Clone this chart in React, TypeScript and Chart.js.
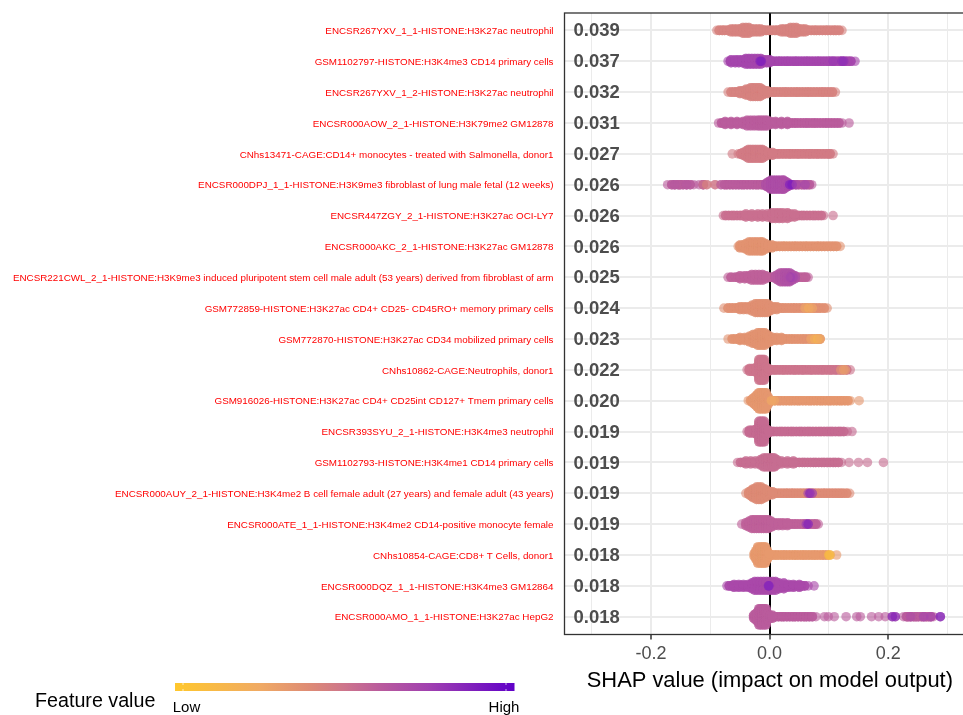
import React, { useEffect, useRef } from "react";
import { Chart, registerables } from "chart.js";

Chart.register(...registerables);

const featureNames = [
  "ENCSR267YXV_1_1-HISTONE:H3K27ac neutrophil",
  "GSM1102797-HISTONE:H3K4me3 CD14 primary cells",
  "ENCSR267YXV_1_2-HISTONE:H3K27ac neutrophil",
  "ENCSR000AOW_2_1-HISTONE:H3K79me2 GM12878",
  "CNhs13471-CAGE:CD14+ monocytes - treated with Salmonella, donor1",
  "ENCSR000DPJ_1_1-HISTONE:H3K9me3 fibroblast of lung male fetal (12 weeks)",
  "ENCSR447ZGY_2_1-HISTONE:H3K27ac OCI-LY7",
  "ENCSR000AKC_2_1-HISTONE:H3K27ac GM12878",
  "ENCSR221CWL_2_1-HISTONE:H3K9me3 induced pluripotent stem cell male adult (53 years) derived from fibroblast of arm",
  "GSM772859-HISTONE:H3K27ac CD4+ CD25- CD45RO+ memory primary cells",
  "GSM772870-HISTONE:H3K27ac CD34 mobilized primary cells",
  "CNhs10862-CAGE:Neutrophils, donor1",
  "GSM916026-HISTONE:H3K27ac CD4+ CD25int CD127+ Tmem primary cells",
  "ENCSR393SYU_2_1-HISTONE:H3K4me3 neutrophil",
  "GSM1102793-HISTONE:H3K4me1 CD14 primary cells",
  "ENCSR000AUY_2_1-HISTONE:H3K4me2 B cell female adult (27 years) and female adult (43 years)",
  "ENCSR000ATE_1_1-HISTONE:H3K4me2 CD14-positive monocyte female",
  "CNhs10854-CAGE:CD8+ T Cells, donor1",
  "ENCSR000DQZ_1_1-HISTONE:H3K4me3 GM12864",
  "ENCSR000AMO_1_1-HISTONE:H3K27ac HepG2",
];

const importance = [0.039, 0.037, 0.032, 0.031, 0.027, 0.026, 0.026, 0.026, 0.025, 0.024, 0.023, 0.022, 0.02, 0.019, 0.019, 0.019, 0.019, 0.018, 0.018, 0.018];

// Typical feature value (0 = low, 1 = high) of each row's points
const rowFeature = [0.44, 0.72, 0.44, 0.6, 0.47, 0.6, 0.52, 0.36, 0.58, 0.37, 0.36, 0.5, 0.34, 0.54, 0.53, 0.4, 0.58, 0.33, 0.7, 0.6];

const xTickValues = [-0.3, -0.2, -0.1, 0, 0.1, 0.2, 0.3];
const xLabelled = [-0.2, 0, 0.2];

// SHAP values along each row
const shap0 = [-0.089, -0.085, -0.08, -0.076, -0.071, -0.066, -0.062, -0.057, -0.052, -0.048, -0.043, -0.038, -0.034, -0.029, -0.024, -0.02, -0.015, -0.01, -0.006, -0.001, 0.004, 0.009, 0.013, 0.018, 0.023, 0.027, 0.032, 0.037, 0.042, 0.046, 0.051, 0.056, 0.06, 0.065, 0.07, 0.075, 0.079, 0.084, 0.089, 0.094, 0.098, 0.103, 0.108, 0.112, 0.117, 0.122];
const shap1 = [-0.07, -0.066, -0.061, -0.056, -0.052, -0.047, -0.043, -0.038, -0.033, -0.029, -0.024, -0.019, -0.015, -0.01, -0.005, -0.001, 0.004, 0.009, 0.014, 0.018, 0.023, 0.028, 0.032, 0.037, 0.042, 0.046, 0.051, 0.056, 0.061, 0.065, 0.07, 0.075, 0.08, 0.084, 0.089, 0.094, 0.099, 0.103, 0.108, 0.113, 0.118, 0.122, 0.127, 0.132, 0.137, 0.144];
const shap2 = [-0.07, -0.065, -0.06, -0.056, -0.051, -0.046, -0.041, -0.037, -0.032, -0.027, -0.023, -0.018, -0.013, -0.008, -0.004, 0.001, 0.006, 0.01, 0.015, 0.02, 0.025, 0.029, 0.034, 0.039, 0.044, 0.048, 0.053, 0.058, 0.063, 0.067, 0.072, 0.077, 0.082, 0.087, 0.091, 0.096, 0.101, 0.106, 0.111];
const shap3 = [-0.086, -0.081, -0.077, -0.072, -0.067, -0.063, -0.058, -0.053, -0.049, -0.044, -0.039, -0.034, -0.03, -0.025, -0.02, -0.016, -0.011, -0.006, -0.002, 0.003, 0.008, 0.012, 0.017, 0.022, 0.027, 0.031, 0.036, 0.041, 0.045, 0.05, 0.055, 0.06, 0.064, 0.069, 0.074, 0.078, 0.083, 0.088, 0.093, 0.097, 0.102, 0.107, 0.112, 0.117, 0.122, 0.134];
const shap4 = [-0.063, -0.053, -0.049, -0.044, -0.039, -0.035, -0.03, -0.025, -0.02, -0.016, -0.011, -0.006, -0.002, 0.003, 0.008, 0.013, 0.017, 0.022, 0.027, 0.032, 0.036, 0.041, 0.046, 0.05, 0.055, 0.06, 0.065, 0.069, 0.074, 0.079, 0.083, 0.088, 0.093, 0.098, 0.102, 0.107];
const shap5 = [-0.172, -0.165, -0.16, -0.154, -0.151, -0.146, -0.14, -0.134, -0.128, -0.119, -0.112, -0.106, -0.092, -0.082, -0.076, -0.072, -0.067, -0.062, -0.057, -0.052, -0.047, -0.043, -0.038, -0.033, -0.028, -0.023, -0.019, -0.014, -0.01, -0.005, 0, 0.005, 0.01, 0.015, 0.02, 0.025, 0.03, 0.034, 0.039, 0.044, 0.049, 0.054, 0.058, 0.063, 0.067, 0.071];
const shap6 = [-0.078, -0.074, -0.069, -0.064, -0.06, -0.055, -0.05, -0.046, -0.041, -0.036, -0.032, -0.027, -0.022, -0.017, -0.013, -0.008, -0.003, 0.002, 0.006, 0.011, 0.016, 0.021, 0.025, 0.03, 0.035, 0.04, 0.044, 0.049, 0.054, 0.058, 0.063, 0.068, 0.073, 0.077, 0.082, 0.087, 0.091, 0.107];
const shap7 = [-0.053, -0.049, -0.044, -0.039, -0.035, -0.03, -0.025, -0.021, -0.016, -0.011, -0.007, -0.002, 0.003, 0.008, 0.012, 0.017, 0.022, 0.026, 0.031, 0.036, 0.041, 0.045, 0.05, 0.055, 0.06, 0.064, 0.069, 0.074, 0.079, 0.083, 0.088, 0.093, 0.098, 0.103, 0.108, 0.113, 0.119];
const shap8 = [-0.07, -0.065, -0.058, -0.053, -0.047, -0.042, -0.037, -0.033, -0.028, -0.023, -0.019, -0.014, -0.009, -0.005, 0, 0.005, 0.01, 0.014, 0.019, 0.024, 0.029, 0.033, 0.037, 0.042, 0.047, 0.052, 0.057, 0.061, 0.065];
const shap9 = [-0.077, -0.07, -0.065, -0.06, -0.055, -0.051, -0.046, -0.041, -0.037, -0.032, -0.027, -0.023, -0.018, -0.013, -0.009, -0.004, 0.001, 0.006, 0.01, 0.015, 0.02, 0.024, 0.029, 0.034, 0.039, 0.043, 0.048, 0.053, 0.058, 0.062, 0.067, 0.072, 0.076, 0.081, 0.086, 0.092, 0.097];
const shap10 = [-0.07, -0.063, -0.058, -0.053, -0.049, -0.044, -0.039, -0.035, -0.03, -0.025, -0.021, -0.016, -0.011, -0.007, -0.002, 0.003, 0.007, 0.012, 0.017, 0.022, 0.026, 0.031, 0.036, 0.04, 0.045, 0.05, 0.055, 0.059, 0.064, 0.069, 0.073, 0.078, 0.082, 0.085];
const shap11 = [-0.038, -0.034, -0.03, -0.025, -0.021, -0.016, -0.012, -0.007, -0.003, 0.002, 0.007, 0.011, 0.016, 0.021, 0.025, 0.03, 0.035, 0.04, 0.044, 0.049, 0.054, 0.058, 0.063, 0.068, 0.072, 0.077, 0.082, 0.087, 0.091, 0.096, 0.101, 0.105, 0.11, 0.114, 0.119, 0.124, 0.13, 0.136];
const shap12 = [-0.036, -0.032, -0.028, -0.023, -0.019, -0.014, -0.01, -0.005, 0, 0.004, 0.009, 0.014, 0.018, 0.023, 0.028, 0.033, 0.037, 0.042, 0.047, 0.051, 0.056, 0.061, 0.066, 0.07, 0.075, 0.08, 0.085, 0.089, 0.094, 0.099, 0.103, 0.108, 0.113, 0.118, 0.122, 0.127, 0.132, 0.136, 0.151];
const shap13 = [-0.038, -0.034, -0.029, -0.025, -0.02, -0.016, -0.011, -0.007, -0.002, 0.003, 0.007, 0.012, 0.017, 0.021, 0.026, 0.031, 0.036, 0.04, 0.045, 0.05, 0.054, 0.059, 0.064, 0.068, 0.073, 0.078, 0.083, 0.087, 0.092, 0.097, 0.102, 0.106, 0.111, 0.116, 0.12, 0.125, 0.131, 0.139];
const shap14 = [-0.054, -0.049, -0.044, -0.04, -0.035, -0.03, -0.026, -0.021, -0.016, -0.012, -0.007, -0.002, 0.003, 0.007, 0.012, 0.017, 0.021, 0.026, 0.031, 0.036, 0.04, 0.045, 0.05, 0.055, 0.059, 0.064, 0.069, 0.074, 0.078, 0.083, 0.088, 0.092, 0.097, 0.102, 0.107, 0.111, 0.116, 0.121, 0.134, 0.15, 0.165, 0.192];
const shap15 = [-0.04, -0.035, -0.031, -0.026, -0.021, -0.016, -0.012, -0.007, -0.002, 0.003, 0.008, 0.012, 0.017, 0.022, 0.027, 0.031, 0.036, 0.04, 0.045, 0.05, 0.055, 0.06, 0.065, 0.07, 0.075, 0.08, 0.085, 0.09, 0.094, 0.099, 0.104, 0.109, 0.114, 0.119, 0.124, 0.13, 0.135];
const shap16 = [-0.047, -0.039, -0.034, -0.03, -0.025, -0.02, -0.016, -0.011, -0.006, -0.002, 0.003, 0.008, 0.012, 0.017, 0.022, 0.026, 0.031, 0.036, 0.041, 0.045, 0.05, 0.055, 0.059, 0.064, 0.069, 0.074, 0.078, 0.082];
const shap17 = [-0.025, -0.021, -0.016, -0.011, -0.007, -0.002, 0.003, 0.008, 0.012, 0.017, 0.022, 0.026, 0.031, 0.036, 0.041, 0.045, 0.05, 0.055, 0.059, 0.064, 0.069, 0.074, 0.078, 0.083, 0.088, 0.092, 0.097, 0.102, 0.113];
const shap18 = [-0.072, -0.068, -0.063, -0.058, -0.054, -0.049, -0.044, -0.04, -0.035, -0.03, -0.026, -0.021, -0.016, -0.012, -0.007, -0.002, 0.003, 0.007, 0.012, 0.017, 0.021, 0.026, 0.031, 0.036, 0.04, 0.045, 0.05, 0.054, 0.059, 0.065, 0.075];
const shap19 = [-0.027, -0.022, -0.018, -0.013, -0.009, -0.004, 0.001, 0.006, 0.01, 0.015, 0.02, 0.024, 0.029, 0.034, 0.039, 0.043, 0.048, 0.053, 0.058, 0.062, 0.067, 0.072, 0.078, 0.0925, 0.099, 0.109, 0.129, 0.147, 0.153, 0.172, 0.184, 0.195, 0.207, 0.212, 0.226, 0.231, 0.234, 0.238, 0.243, 0.247, 0.251, 0.256, 0.26, 0.264, 0.268, 0.272, 0.276, 0.288];

// Places where many observations pile up: [shap, count, optional feature value]
const stack0 = [[-0.065, 3], [-0.06, 3], [-0.055, 3], [-0.05, 3], [-0.045, 5], [-0.04, 5], [-0.035, 5], [-0.03, 3], [-0.025, 3], [-0.02, 3], [-0.015, 3], [0.02, 3], [0.025, 3], [0.03, 3], [0.035, 5], [0.04, 5], [0.045, 5], [0.05, 3], [0.055, 3], [0.06, 3]];
const stack1 = [[-0.065, 3], [-0.058, 3], [-0.052, 3], [-0.046, 3], [-0.04, 5], [-0.035, 5], [-0.03, 5], [-0.025, 5], [-0.02, 5], [-0.015, 5], [-0.01, 3], [-0.005, 3], [0, 3]];
const stack2 = [[-0.05, 3], [-0.045, 3], [-0.04, 5], [-0.036, 5], [-0.032, 7], [-0.028, 7], [-0.024, 7], [-0.02, 7], [-0.016, 7], [-0.012, 5], [-0.008, 3], [-0.004, 3]];
const stack3 = [[-0.075, 3], [-0.065, 3], [-0.055, 3], [-0.045, 3], [-0.038, 5], [-0.032, 5], [-0.026, 5], [-0.02, 5], [-0.016, 5], [-0.012, 5], [-0.008, 5], [-0.004, 5], [0.002, 3], [0.01, 3], [0.02, 3], [0.03, 3]];
const stack4 = [[-0.045, 3], [-0.04, 5], [-0.036, 7], [-0.032, 7], [-0.028, 7], [-0.024, 7], [-0.02, 7], [-0.016, 7], [-0.012, 7], [-0.008, 5], [-0.002, 3], [0.005, 3]];
const stack5 = [[-0.006, 3, 0.66], [-0.002, 5, 0.66], [0.002, 7, 0.68], [0.006, 7, 0.68], [0.01, 7, 0.68], [0.014, 7, 0.68], [0.018, 7, 0.68], [0.022, 7, 0.68], [0.024, 7, 0.68], [0.028, 5, 0.68], [0.032, 3, 0.7]];
const stack6 = [[-0.04, 3], [-0.03, 3], [-0.02, 3], [-0.012, 3], [-0.004, 3], [0.004, 5], [0.01, 5], [0.016, 5], [0.022, 5], [0.03, 5], [0.036, 3], [0.042, 3]];
const stack7 = [[-0.05, 3], [-0.045, 3], [-0.04, 5], [-0.035, 7], [-0.031, 7], [-0.027, 7], [-0.023, 7], [-0.019, 7], [-0.015, 7], [-0.012, 7], [-0.007, 5], [-0.002, 3], [0.004, 3]];
const stack8 = [[-0.05, 3], [-0.042, 3], [-0.036, 3], [-0.03, 5], [-0.024, 5], [-0.018, 5], [-0.012, 5], [-0.006, 3], [0.01, 3, 0.62], [0.014, 5, 0.62], [0.018, 7, 0.64], [0.022, 7, 0.64], [0.026, 7, 0.66], [0.03, 7, 0.66], [0.034, 7, 0.66], [0.038, 5, 0.68], [0.043, 3, 0.66]];
const stack9 = [[-0.05, 3], [-0.044, 3], [-0.038, 3], [-0.03, 5], [-0.024, 7], [-0.02, 7], [-0.016, 7], [-0.012, 7], [-0.008, 7], [-0.004, 7], [0, 5], [0.006, 3], [0.012, 3]];
const stack10 = [[-0.05, 3], [-0.042, 3], [-0.034, 5], [-0.028, 7], [-0.024, 7], [-0.02, 9], [-0.016, 9], [-0.012, 9], [-0.008, 9], [-0.004, 7], [0, 5], [0.006, 3], [0.012, 3], [0.02, 3]];
const stack11 = [[-0.034, 3], [-0.03, 3], [-0.026, 3], [-0.022, 5], [-0.018, 13], [-0.015, 13], [-0.012, 13], [-0.009, 13], [-0.006, 5], [-0.002, 3]];
const stack12 = [[-0.03, 3], [-0.027, 5], [-0.024, 7], [-0.021, 9], [-0.018, 11], [-0.015, 11], [-0.012, 11], [-0.009, 11], [-0.006, 11], [-0.003, 7], [0, 3]];
const stack13 = [[-0.034, 3], [-0.03, 3], [-0.026, 3], [-0.022, 5], [-0.018, 13], [-0.015, 13], [-0.012, 13], [-0.009, 13], [-0.006, 5], [-0.002, 3]];
const stack14 = [[-0.04, 3], [-0.032, 3], [-0.024, 3], [-0.015, 5], [-0.01, 7], [-0.006, 7], [-0.002, 7], [0.002, 7], [0.005, 7], [0.008, 7], [0.012, 5], [0.02, 3], [0.03, 3], [0.04, 3]];
const stack15 = [[-0.035, 3], [-0.031, 5], [-0.028, 7], [-0.025, 7], [-0.022, 9], [-0.018, 9], [-0.014, 9], [-0.011, 7], [-0.008, 7], [-0.004, 5], [0.001, 3], [0.005, 3]];
const stack16 = [[-0.04, 3], [-0.035, 5], [-0.03, 7], [-0.026, 7], [-0.022, 7], [-0.018, 7], [-0.014, 7], [-0.01, 7], [-0.006, 7], [-0.002, 7], [0.003, 5], [0.008, 3], [0.015, 3], [0.022, 3], [0.03, 3]];
const stack17 = [[-0.026, 3], [-0.023, 7], [-0.02, 11], [-0.016, 11], [-0.013, 11], [-0.01, 11], [-0.007, 11], [-0.004, 7], [-0.001, 3]];
const stack18 = [[-0.06, 3], [-0.052, 3], [-0.044, 3], [-0.036, 3], [-0.03, 5], [-0.025, 7], [-0.02, 7], [-0.015, 7], [-0.01, 7], [-0.005, 7], [0, 7], [0.005, 7], [0.01, 7], [0.016, 5], [0.024, 5], [0.032, 3], [0.04, 3], [0.05, 3]];
const stack19 = [[-0.027, 3], [-0.024, 5], [-0.021, 7], [-0.018, 11], [-0.015, 11], [-0.012, 11], [-0.009, 11], [-0.006, 11], [-0.003, 5], [0.001, 3], [0.005, 3]];

// Individual observations whose colour differs from their row: [shap, feature value]
const accent1 = [[-0.016, 0.88], [-0.014, 0.88], [0.107, 0.78], [0.122, 0.82], [0.125, 0.82]];
const accent5 = [[-0.16, 0.62], [-0.14, 0.62], [-0.112, 0.5], [-0.106, 0.42], [-0.092, 0.44], [-0.082, 0.6], [0.034, 0.9], [0.038, 0.9], [0.045, 0.72], [0.06, 0.72]];
const accent8 = [[0.035, 0.78], [0.04, 0.72], [0.031, 0.68]];
const accent9 = [[0.06, 0.26], [0.066, 0.22], [0.072, 0.26]];
const accent10 = [[0.07, 0.26], [0.076, 0.2], [0.081, 0.16], [0.085, 0.24]];
const accent11 = [[0.12, 0.34], [0.125, 0.3], [0.128, 0.32]];
const accent12 = [[0.003, 0.24], [0.008, 0.26]];
const accent15 = [[0.065, 0.74], [0.068, 0.88], [0.072, 0.78]];
const accent16 = [[0.062, 0.78], [0.065, 0.88]];
const accent17 = [[0.1, 0.06], [0.102, 0.1]];
const accent18 = [[-0.002, 0.86], [-0.001, 0.86]];
const accent19 = [[0.207, 0.88], [0.212, 0.85], [0.238, 0.68], [0.26, 0.72], [0.272, 0.72], [0.288, 0.92]];

const shapRows = [shap0, shap1, shap2, shap3, shap4, shap5, shap6, shap7, shap8, shap9, shap10, shap11, shap12, shap13, shap14, shap15, shap16, shap17, shap18, shap19];
const stackRows: number[][][] = [stack0, stack1, stack2, stack3, stack4, stack5, stack6, stack7, stack8, stack9, stack10, stack11, stack12, stack13, stack14, stack15, stack16, stack17, stack18, stack19];
const accentRows: Record<number, number[][]> = { 1: accent1, 5: accent5, 8: accent8, 9: accent9, 10: accent10, 11: accent11, 12: accent12, 15: accent15, 16: accent16, 17: accent17, 18: accent18, 19: accent19 };

const colourStops: [number, number[]][] = [
  [0, [255, 199, 44]],
  [0.25, [240, 170, 100]],
  [0.4, [221, 138, 118]],
  [0.5, [205, 117, 140]],
  [0.6, [186, 92, 156]],
  [0.75, [160, 64, 176]],
  [1, [96, 0, 200]],
];

function colourAt(f: number): number[] {
  for (let i = 1; i < colourStops.length; i++) {
    const [b, cb] = colourStops[i];
    if (f <= b) {
      const [a, ca] = colourStops[i - 1];
      const t = (f - a) / (b - a);
      return ca.map((v, k) => Math.round(v + (cb[k] - v) * t));
    }
  }
  return colourStops[colourStops.length - 1][1];
}

const POINT_ALPHA = 0.62;
const rgba = (f: number) => {
  const [r, g, b] = colourAt(f);
  return `rgba(${r},${g},${b},${POINT_ALPHA})`;
};

// Vertical spread of piled points, in row units, by distance from the row's centre line
const PILE_LEVELS = [0, 0.045, 0.09, 0.14, 0.2, 0.26, 0.33];
const DENSE_REACH = 0.0075; // a value with neighbours this close lies in a crowded run
const DENSE_LAYERS = 3;
const PILE_LAYERS = 2;

function buildDatasets() {
  return shapRows.map((row, i) => {
    const rowNo = i + 1;
    const pts: { x: number; y: number; f: number }[] = [];
    row.forEach((x) => {
      const near = row.filter((o) => o !== x && Math.abs(o - x) <= DENSE_REACH).length;
      const layers = near >= 2 ? DENSE_LAYERS : 1;
      for (let l = 0; l < layers; l++) pts.push({ x, y: rowNo, f: rowFeature[i] });
    });
    stackRows[i].forEach(([x, n, f]) => {
      const colour = f ?? rowFeature[i];
      for (let k = 1; k < n; k++) {
        const level = Math.ceil(k / 2);
        const sign = k % 2 === 1 ? 1 : -1;
        for (let l = 0; l < PILE_LAYERS; l++) pts.push({ x, y: rowNo + sign * PILE_LEVELS[level], f: colour });
      }
      if (f !== undefined) pts.push({ x, y: rowNo, f: colour }, { x, y: rowNo, f: colour });
    });
    (accentRows[i] || []).forEach(([x, f]) => pts.push({ x, y: rowNo, f }));
    return {
      label: featureNames[i],
      data: pts.map((p) => ({ x: p.x, y: p.y })),
      backgroundColor: pts.map((p) => rgba(p.f)),
      borderWidth: 0,
      pointRadius: 4.8,
      clip: false as const,
    };
  });
}

const SANS = '"Liberation Sans", Arial, sans-serif';

const panelDecor = {
  id: "panelDecor",
  beforeDatasetsDraw(chart: any) {
    const { ctx, chartArea, scales } = chart;
    ctx.save();
    ctx.fillStyle = "#4d4d4d";
    ctx.font = `bold 18.5px ${SANS}`;
    ctx.textAlign = "left";
    ctx.textBaseline = "middle";
    importance.forEach((v, i) => {
      ctx.fillText(v.toFixed(3), chartArea.left + 9, scales.y.getPixelForValue(i + 1) + 1);
    });
    ctx.restore();
  },
  afterDraw(chart: any) {
    const { ctx, chartArea } = chart;
    ctx.save();
    ctx.strokeStyle = "#333333";
    ctx.lineWidth = 1.3;
    ctx.strokeRect(chartArea.left, chartArea.top, chartArea.right - chartArea.left, chartArea.bottom - chartArea.top);

    // Colour-bar legend
    const barL = 175;
    const barR = 514.5;
    const grad = ctx.createLinearGradient(barL, 0, barR, 0);
    colourStops.forEach(([p, c]) => grad.addColorStop(p, `rgb(${c[0]},${c[1]},${c[2]})`));
    ctx.fillStyle = grad;
    ctx.fillRect(barL, 683, barR - barL, 8);
    ctx.strokeStyle = "#ffffff";
    ctx.lineWidth = 0.7;
    [183, 506].forEach((x) => {
      ctx.beginPath();
      ctx.moveTo(x, 683);
      ctx.lineTo(x, 685);
      ctx.moveTo(x, 689);
      ctx.lineTo(x, 691);
      ctx.stroke();
    });
    ctx.fillStyle = "#000000";
    ctx.textBaseline = "alphabetic";
    ctx.textAlign = "left";
    ctx.font = `19.7px ${SANS}`;
    ctx.fillText("Feature value", 35, 707);
    ctx.textAlign = "center";
    ctx.font = `15px ${SANS}`;
    ctx.fillText("Low", 186.5, 712);
    ctx.fillText("High", 504, 712);
    ctx.restore();
  },
};

const zeroPadding = (s: any) => {
  s.paddingLeft = 0;
  s.paddingRight = 0;
  s.paddingTop = 0;
  s.paddingBottom = 0;
};

export default function App() {
  const ref = useRef<HTMLCanvasElement>(null);
  useEffect(() => {
    document.body.style.margin = "0";
    const chart = new Chart(ref.current as HTMLCanvasElement, {
      type: "scatter",
      data: { datasets: buildDatasets() as any },
      plugins: [panelDecor as any],
      options: {
        animation: false,
        responsive: false,
        layout: { padding: { left: 0, right: 0, top: 13, bottom: 0 } },
        plugins: { legend: { display: false }, tooltip: { enabled: false } },
        scales: {
          x: {
            type: "linear",
            min: -0.346,
            max: 0.3468,
            afterFit: (s: any) => {
              s.height = 80.5;
              zeroPadding(s);
            },
            afterBuildTicks: (s: any) => {
              s.ticks = xTickValues.map((value) => ({ value }));
            },
            border: { display: false },
            grid: {
              color: (c: any) => (Math.abs(c.tick?.value) < 1e-9 ? "#000000" : "#ebebeb"),
              lineWidth: (c: any) => {
                const v = c.tick?.value;
                if (Math.abs(v) < 1e-9) return 2;
                return xLabelled.some((t) => Math.abs(t - v) < 1e-9) ? 2 : 1;
              },
              tickColor: (c: any) => (xLabelled.some((t) => Math.abs(t - c.tick?.value) < 1e-9) ? "#333333" : "rgba(0,0,0,0)"),
              tickWidth: 1.5,
              tickLength: 5,
            },
            ticks: {
              autoSkip: false,
              maxRotation: 0,
              minRotation: 0,
              color: "#4d4d4d",
              padding: 4,
              font: { family: SANS, size: 18 },
              callback: (v: any) => (xLabelled.some((t) => Math.abs(t - v) < 1e-9) ? Number(v).toFixed(1) : ""),
            },
            title: {
              display: true,
              text: "SHAP value (impact on model output)",
              color: "#000000",
              font: { family: SANS, size: 21.9 },
              padding: { top: 0, bottom: 21 },
            },
          },
          y: {
            type: "linear",
            reverse: true,
            min: 0.436,
            max: 20.576,
            afterFit: (s: any) => {
              s.width = 564.5;
              zeroPadding(s);
            },
            afterBuildTicks: (s: any) => {
              s.ticks = featureNames.map((_, i) => ({ value: i + 1 }));
            },
            border: { display: false },
            grid: { color: "#ebebeb", lineWidth: 2, drawTicks: false },
            ticks: {
              autoSkip: false,
              color: "#ff0000",
              padding: 11,
              labelOffset: 1,
              font: { family: SANS, size: 9.84 },
              callback: (v: any) => featureNames[Number(v) - 1],
            },
          },
        },
      },
    });
    return () => chart.destroy();
  }, []);
  return (
    <div style={{ width: 963, height: 715, overflow: "hidden", position: "relative" }}>
      <canvas ref={ref} width={980} height={715} style={{ display: "block" }} />
    </div>
  );
}
